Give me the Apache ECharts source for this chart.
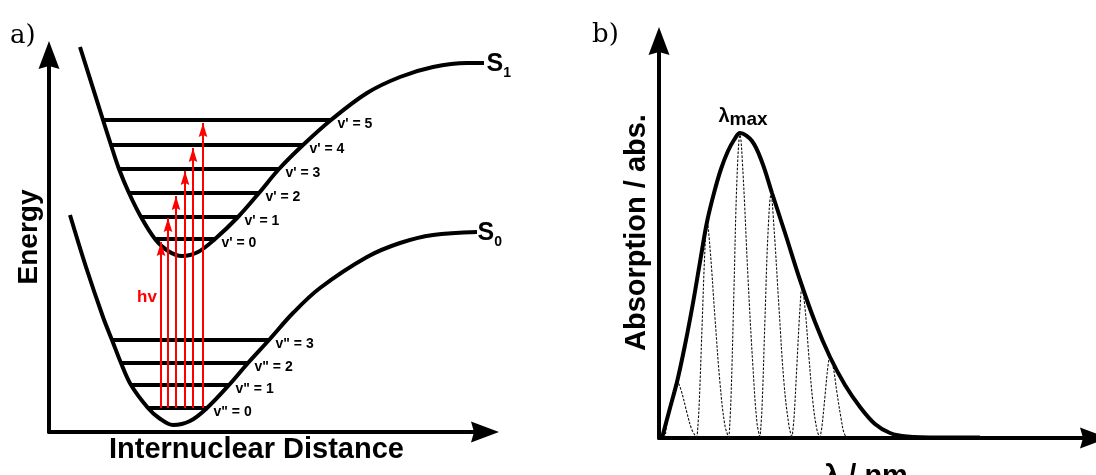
<!DOCTYPE html>
<html>
<head>
<meta charset="utf-8">
<script src="https://cdn.jsdelivr.net/npm/echarts@6/dist/echarts.min.js"></script>
<style>html,body{margin:0;padding:0;background:#fff}#chart{width:1096px;height:475px}</style>
</head>
<body>
<div id="chart"></div>
<script>
// ---------- Panel a: potential energy curves (arbitrary units) ----------
const s1Curve = [[3.1,38.5],[5.4,31.2],[6.2,28.7],[7.0,26.3],[8.0,23.9],[9.2,21.5],[10.6,19.3],[11.9,18.1],[13.3,17.6],[14.9,18.0],[16.6,19.3],[18.9,21.5],[21.0,23.9],[23.0,26.3],[25.4,28.7],[28.2,31.2],[31.8,33.9],[35.1,35.5],[38.4,36.5],[41.8,36.9],[43.5,36.9]];
const s0Curve = [[2.1,21.7],[3.7,16.5],[5.4,11.5],[6.3,9.2],[7.2,6.9],[8.2,4.7],[9.9,2.4],[11.0,1.4],[12.4,0.7],[14.1,1.1],[15.8,2.4],[18.0,4.7],[19.9,6.9],[22.0,9.2],[24.4,11.9],[27.1,14.4],[31.8,17.5],[35.1,18.9],[38.4,19.7],[42.8,20.0]];
const stateNames = ['S1', 'S0'];

const s1LevelLabels = ["v' = 0", "v' = 1", "v' = 2", "v' = 3", "v' = 4", "v' = 5"];
const s1LevelEnergy = [19.3, 21.5, 23.9, 26.3, 28.7, 31.2];
const s1LevelLeft   = [10.6, 9.2, 8.0, 7.0, 6.2, 5.4];
const s1LevelRight  = [16.6, 18.9, 21.0, 23.0, 25.4, 28.2];

const s0LevelLabels = ['v" = 0', 'v" = 1', 'v" = 2', 'v" = 3'];
const s0LevelEnergy = [2.4, 4.7, 6.9, 9.2];
const s0LevelLeft   = [9.9, 8.2, 7.2, 6.3];
const s0LevelRight  = [15.8, 18.0, 19.9, 22.0];

const transitionX      = [11.2, 11.9, 12.7, 13.6, 14.4, 15.4];
const transitionTop    = [19.0, 21.4, 23.6, 26.1, 28.4, 30.9];
const transitionBottom = 2.4;

// ---------- Panel b: absorption spectrum (arbitrary units) ----------
const absorptionEnvelope = [[0.3,0],[1.1,3.0],[1.8,5.6],[2.6,9.3],[3.4,13.5],[4.1,17.6],[4.8,21.6],[5.5,24.5],[6.2,26.9],[6.9,28.7],[7.5,29.8],[8.1,30.5],[9.3,29.7],[10.3,27.6],[11.3,24.5],[12.7,20.2],[14.1,15.8],[15.6,11.6],[17.1,8.1],[18.6,5.3],[20.1,3.1],[21.6,1.4],[23.1,0.5],[24.8,0.15],[28.1,0.05],[32.1,0.05]];
const lambdaMax = [8.1, 30.5];
const band0 = [[0.6,0],[1.0,2.8],[1.5,5.0],[1.8,5.6],[2.2,4.8],[2.8,2.5],[3.3,0.8],[3.8,0]];
const band1 = [[3.8,0],[4.0,3.0],[4.3,11.0],[4.6,19.0],[4.8,21.6],[5.1,19.0],[5.6,12.0],[6.1,5.5],[6.6,1.2],[7.0,0]];
const band2 = [[7.0,0],[7.2,4.0],[7.5,15.0],[7.8,26.0],[8.1,30.3],[8.4,26.5],[8.9,16.0],[9.4,7.0],[9.8,1.5],[10.1,0]];
const band3 = [[10.1,0],[10.3,3.0],[10.6,12.0],[10.9,20.5],[11.2,24.3],[11.5,21.0],[12.0,13.0],[12.5,5.5],[13.0,1.2],[13.3,0]];
const band4 = [[13.3,0],[13.5,2.0],[13.8,7.5],[14.1,13.0],[14.3,15.0],[14.6,13.0],[15.0,8.0],[15.4,3.5],[15.8,0.8],[16.1,0]];
const band5 = [[16.1,0],[16.3,1.2],[16.6,4.2],[16.9,7.2],[17.1,8.1],[17.4,7.2],[17.8,4.5],[18.2,2.0],[18.5,0.5],[18.8,0]];
const vibronicBands = [band0, band1, band2, band3, band4, band5];

// ---------- styling ----------
const FONT = "'Liberation Sans', Arial, Helvetica, sans-serif";
const AXIS_ARROW = 'path://M10.5,0L21,28L10.5,25L0,28Z';
const RED_ARROW = 'path://M5.5,0L11,14L5.5,12L0,14Z';
const HIDDEN_POINT = { symbol: 'circle', symbolSize: 1, itemStyle: { color: 'rgba(0,0,0,0)' }, silent: true };

function axisBase(gridIndex, max, name, nameGap, padding, rotate, fontSize) {
  return {
    gridIndex: gridIndex, type: 'value', min: 0, max: max,
    axisLine: { show: true, onZero: true, symbol: ['none', AXIS_ARROW], symbolSize: [21, 28],
      lineStyle: { color: '#000', width: 4 } },
    axisTick: { show: false }, axisLabel: { show: false }, splitLine: { show: false },
    name: name, nameLocation: 'middle', nameGap: nameGap, nameRotate: rotate,
    nameTextStyle: { color: '#000', fontFamily: FONT, fontWeight: 'bold', fontSize: fontSize, padding: padding }
  };
}

function endMarker(point, label) {
  return Object.assign({}, HIDDEN_POINT, { data: [{ coord: point }], label: label });
}

const series = [];

// Potential energy curves
[s1Curve, s0Curve].forEach(function (curve, i) {
  series.push({
    type: 'line', xAxisIndex: 0, yAxisIndex: 0, data: curve, smooth: 0.35,
    showSymbol: false, clip: false, silent: true, z: 3,
    lineStyle: { color: '#000', width: 4 }, itemStyle: { color: '#000' },
    markPoint: endMarker(curve[curve.length - 1], {
      show: true, position: 'right', distance: i === 0 ? 2 : 0, offset: [0, 1], color: '#000',
      formatter: '{s|' + stateNames[i].charAt(0) + '}{n|' + stateNames[i].slice(1) + '}',
      rich: {
        s: { fontFamily: FONT, fontWeight: 'bold', fontSize: 25, lineHeight: 32, color: '#000' },
        n: { fontFamily: FONT, fontWeight: 'bold', fontSize: 14, lineHeight: 14, verticalAlign: 'bottom', color: '#000' }
      }
    })
  });
});

// Vibrational levels
function addLevels(left, right, energy, labels) {
  energy.forEach(function (e, i) {
    series.push({
      type: 'line', xAxisIndex: 0, yAxisIndex: 0, data: [[left[i], e], [right[i], e]],
      showSymbol: false, silent: true, z: 2,
      lineStyle: { color: '#000', width: 4 }, itemStyle: { color: '#000' },
      markPoint: endMarker([right[i], e], {
        show: true, position: 'right', distance: 6, offset: [0, 4.5], formatter: labels[i],
        color: '#000', fontFamily: FONT, fontWeight: 'bold', fontSize: 14
      })
    });
  });
}
addLevels(s1LevelLeft, s1LevelRight, s1LevelEnergy, s1LevelLabels);
addLevels(s0LevelLeft, s0LevelRight, s0LevelEnergy, s0LevelLabels);

// Absorption transitions (red arrows)
transitionX.forEach(function (x, i) {
  series.push({
    type: 'line', xAxisIndex: 0, yAxisIndex: 0, silent: true, z: 5, showSymbol: true,
    symbolKeepAspect: true,
    data: [
      { value: [x, transitionBottom], symbol: 'none' },
      { value: [x, transitionTop[i]], symbol: RED_ARROW, symbolSize: [11, 14], symbolOffset: [0, 7] }
    ],
    lineStyle: { color: '#ff0000', width: 2 }, itemStyle: { color: '#ff0000' }
  });
});

// Vibronic bands (dashed)
vibronicBands.forEach(function (b) {
  series.push({
    type: 'line', xAxisIndex: 1, yAxisIndex: 1, data: b, smooth: 0.4,
    showSymbol: false, silent: true, z: 2,
    lineStyle: { color: '#111', width: 1.1, type: [2.5, 1.5] }, itemStyle: { color: '#111' }
  });
});

// Absorption envelope
series.push({
  type: 'line', xAxisIndex: 1, yAxisIndex: 1, data: absorptionEnvelope, smooth: 0.35,
  showSymbol: false, silent: true, z: 3,
  lineStyle: { color: '#000', width: 4 }, itemStyle: { color: '#000' },
  markPoint: endMarker(lambdaMax, {
    show: true, position: 'top', distance: 3, offset: [3, 0],
    formatter: '{a|λ}{b|max}',
    rich: {
      a: { fontFamily: FONT, fontWeight: 'bold', fontSize: 20, lineHeight: 26, color: '#000' },
      b: { fontFamily: FONT, fontWeight: 'bold', fontSize: 19, lineHeight: 20, verticalAlign: 'bottom', color: '#000' }
    }
  })
});

const option = {
  animation: false,
  backgroundColor: '#fff',
  textStyle: { fontFamily: FONT },
  grid: [
    { left: 49, right: 611, top: 55, bottom: 43, containLabel: false, outerBoundsMode: 'none' },
    { left: 659, right: 2, top: 41, bottom: 37, containLabel: false, outerBoundsMode: 'none' }
  ],
  xAxis: [
    axisBase(0, 43.6, 'Internuclear Distance', 3, [0, 21, 0, 0], 0, 29),
    axisBase(1, 43.5, 'λ / nm', 24, [0, 21, 0, 0], 0, 29)
  ],
  yAxis: [
    axisBase(0, 37.7, 'Energy', 5.5, [0, 0, 0, 13], 90, 28),
    axisBase(1, 39.7, 'Absorption / abs.', 8, [0, 0, 0, 14], 90, 29)
  ],
  graphic: [
    { type: 'text', x: 10, y: 36, silent: true,
      style: { text: 'a)', font: '26px "DejaVu Serif"', fill: '#000', textAlign: 'left', textVerticalAlign: 'middle', verticalAlign: 'middle' } },
    { type: 'text', x: 592, y: 35, silent: true,
      style: { text: 'b)', font: '26px "DejaVu Serif"', fill: '#000', textAlign: 'left', textVerticalAlign: 'middle', verticalAlign: 'middle' } },
    { type: 'text', x: 137, y: 297, silent: true,
      style: { text: 'hv', font: 'bold 17px "Liberation Sans", Arial, sans-serif', fill: '#ff0000', textAlign: 'left', textVerticalAlign: 'middle', verticalAlign: 'middle' } }
  ],
  series: series
};

const chart = echarts.init(document.getElementById('chart'), null, { renderer: 'canvas' });
chart.setOption(option);
</script>
</body>
</html>
